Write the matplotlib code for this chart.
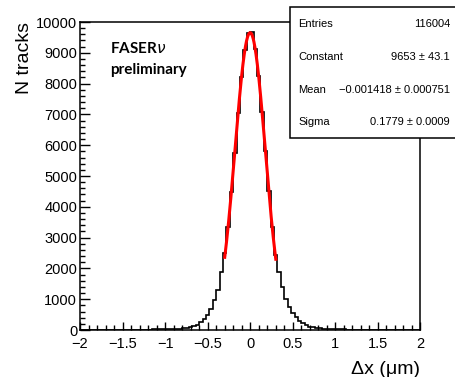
import numpy as np
import matplotlib.pyplot as plt
from matplotlib.patches import Rectangle
from matplotlib.ticker import MultipleLocator

plt.rcParams['font.family'] = ['Liberation Sans', 'DejaVu Sans']
plt.rcParams['mathtext.fontset'] = 'dejavusans'

# histogram: 100 bins from -2 to 2
bin_edges = np.linspace(-2, 2, 101)
counts = [
    3, 2, 4, 3, 4, 5, 4, 6, 5, 7,
    6, 8, 9, 8, 10, 11, 12, 12, 14, 15,
    16, 18, 19, 21, 23, 25, 29, 34, 40, 48,
    58, 72, 90, 130, 175, 250, 350, 490, 670, 975,
    1300, 1870, 2490, 3350, 4480, 5760, 7050, 8230, 9100, 9640,
    9660, 9110, 8260, 7090, 5800, 4520, 3340, 2450, 1890, 1400,
    1000, 735, 540, 410, 300, 215, 160, 110, 82, 65,
    52, 43, 36, 30, 26, 22, 20, 18, 16, 15,
    13, 12, 11, 10, 9, 9, 8, 7, 6, 6,
    5, 5, 4, 4, 3, 4, 3, 2, 3, 2,
]

# gaussian fit parameters (stat box)
entries = 116004
fit_const, fit_const_err = 9653, 43.1
fit_mean, fit_mean_err = -0.001418, 0.000751
fit_sigma, fit_sigma_err = 0.1779, 0.0009
fit_range = (-0.3, 0.3)

fig = plt.figure(figsize=(4.56, 3.77), dpi=100)
ax = fig.add_axes([80 / 456, 1 - 330 / 377, 340.5 / 456, 308 / 377])

ax.stairs(counts, bin_edges, color='black', linewidth=1.2)

xx = np.linspace(fit_range[0], fit_range[1], 200)
ax.plot(xx, fit_const * np.exp(-0.5 * ((xx - fit_mean) / fit_sigma) ** 2),
        color='#ff0000', linewidth=2.2)

ax.set_xlim(-2, 2)
ax.set_ylim(0, 10000)
ax.xaxis.set_major_locator(MultipleLocator(0.5))
ax.xaxis.set_minor_locator(MultipleLocator(0.1))
ax.yaxis.set_major_locator(MultipleLocator(1000))
ax.yaxis.set_minor_locator(MultipleLocator(200))
ax.set_xticks([-2, -1.5, -1, -0.5, 0, 0.5, 1, 1.5, 2])
ax.set_xticklabels(['\u22122', '\u22121.5', '\u22121', '\u22120.5', '0', '0.5', '1', '1.5', '2'])
ax.tick_params(axis='both', which='both', direction='in', labelsize=10.5,
               width=1.0, colors='black')
ax.tick_params(axis='x', which='major', length=6, pad=5)
ax.tick_params(axis='x', which='minor', length=3.5)
ax.tick_params(axis='y', which='major', length=7.5, pad=2)
ax.tick_params(axis='y', which='minor', length=3.8)
for sp in ax.spines.values():
    sp.set_linewidth(1.1)

ax.set_ylabel('N tracks', fontsize=14, loc='top', labelpad=2)
ax.set_xlabel('\u0394x (\u03bcm)', fontsize=14, loc='right', labelpad=7)

ax.text(0.088, 0.915, 'FASER$\\nu$', transform=ax.transAxes, fontsize=11,
        fontweight='bold', family=['Lato', 'DejaVu Sans'], va='center')
ax.text(0.088, 0.845, 'preliminary', transform=ax.transAxes, fontsize=11,
        fontweight='bold', family=['Lato', 'DejaVu Sans'], va='center')

# stat box
box = Rectangle((290 / 456, 1 - 138 / 377), 0.5, 131 / 377,
                transform=fig.transFigure, facecolor='white',
                edgecolor='black', linewidth=1.1, zorder=10, clip_on=False)
fig.patches.append(box)
rows = [
    ('Entries', f'{entries}'),
    ('Constant', f'{fit_const} \u00b1 {fit_const_err}'),
    ('Mean', f'\u2212{abs(fit_mean):.6f} \u00b1 {fit_mean_err:.6f}'),
    ('Sigma', f'{fit_sigma:.4f} \u00b1 {fit_sigma_err:.4f}'),
]
row_y = [24, 57, 90, 122]
for (name, val), y in zip(rows, row_y):
    fig.text(298 / 456, 1 - y / 377, name, fontsize=8, va='center', ha='left', zorder=11)
    fig.text(450 / 456, 1 - y / 377, val, fontsize=8, va='center', ha='right', zorder=11)

fig.savefig('out.png', dpi=100)
